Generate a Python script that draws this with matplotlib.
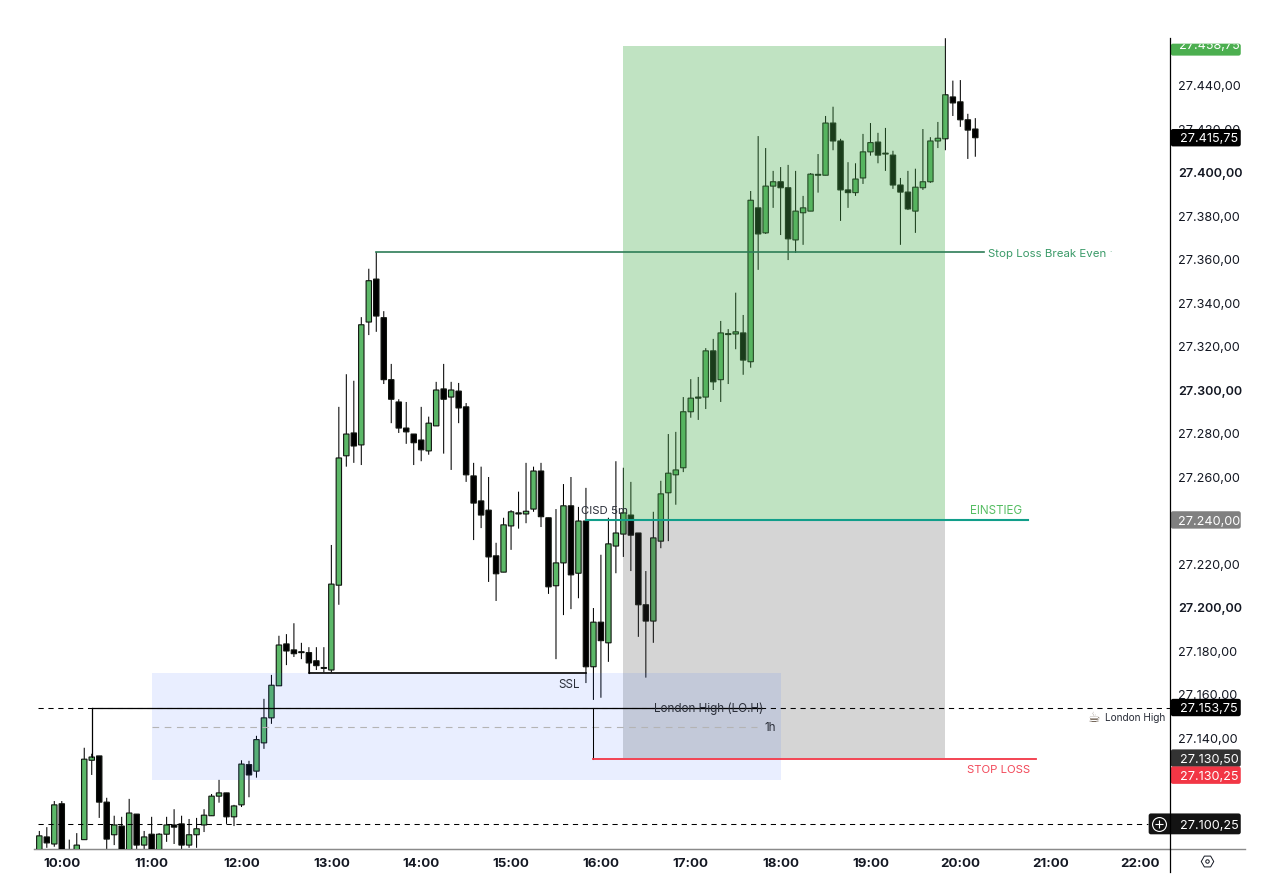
#!/usr/bin/env python3
"""Intraday 5 minute candle chart with long setup boxes and key levels."""
import matplotlib
matplotlib.use("Agg")
import matplotlib.pyplot as plt
from matplotlib.patches import FancyBboxPatch, Rectangle

plt.rcParams["font.family"] = ["Inter", "DejaVu Sans"]

opens = [
    27087.5, 27094.25, 27091.0, 27109.5, 27087.5, 27087.5, 27093.0, 27129.5, 27131.5, 27110.25,
    27095.25, 27099.25, 27088.25, 27104.75, 27090.5, 27095.5, 27088.25, 27095.5, 27099.75, 27100.25,
    27090.5, 27095.25, 27099.75, 27104.0, 27113.0, 27114.5, 27103.5, 27109.0, 27127.5, 27124.5,
    27137.5, 27149.0, 27163.75, 27183.0, 27180.25, 27179.25, 27179.0, 27175.25, 27171.75, 27171.0,
    27210.0, 27269.5, 27280.0, 27274.5, 27331.0, 27350.75, 27333.0, 27304.5, 27294.25, 27282.25,
    27279.5, 27276.75, 27271.75, 27283.25, 27300.25, 27296.5, 27299.25, 27292.0, 27260.25, 27248.75,
    27244.5, 27223.5, 27216.0, 27237.25, 27243.25, 27242.75, 27245.0, 27262.5, 27241.0, 27209.75,
    27220.25, 27246.5, 27215.5, 27239.5, 27172.5, 27193.0, 27183.5, 27228.0, 27233.5, 27242.25,
    27234.0, 27201.0, 27193.5, 27230.25, 27252.5, 27260.75, 27264.0, 27289.75, 27296.5, 27296.5,
    27317.75, 27304.5, 27325.5, 27325.5, 27326.0, 27312.75, 27383.5, 27372.0, 27393.5, 27395.5,
    27392.75, 27368.75, 27381.25, 27382.0, 27398.5, 27398.5, 27422.5, 27414.25, 27391.75, 27390.5,
    27397.25, 27409.25, 27413.75, 27408.5, 27407.75, 27394.0, 27390.75, 27382.0, 27392.75, 27395.5,
    27414.25, 27415.25, 27434.5, 27432.25, 27424.0, 27419.75,
]
highs = [
    27097.0, 27098.75, 27110.75, 27110.75, 27093.0, 27096.0, 27135.25, 27132.5, 27131.5, 27112.25,
    27104.0, 27103.5, 27111.75, 27104.75, 27097.0, 27103.5, 27096.0, 27103.5, 27107.0, 27104.0,
    27102.5, 27103.0, 27107.0, 27114.0, 27120.5, 27114.5, 27109.0, 27129.5, 27129.25, 27140.75,
    27157.75, 27168.75, 27186.75, 27187.5, 27192.5, 27183.5, 27181.5, 27181.5, 27181.5, 27228.5,
    27292.0, 27307.0, 27304.0, 27333.25, 27355.5, 27363.25, 27336.0, 27311.75, 27295.5, 27294.25,
    27279.5, 27292.0, 27287.5, 27303.5, 27311.75, 27303.5, 27303.0, 27293.75, 27266.25, 27264.5,
    27259.75, 27229.5, 27241.0, 27244.5, 27253.0, 27266.25, 27264.5, 27266.25, 27241.0, 27245.0,
    27256.5, 27259.75, 27246.0, 27254.75, 27199.5, 27224.0, 27241.0, 27267.0, 27264.0, 27257.5,
    27234.0, 27216.5, 27243.75, 27258.0, 27279.5, 27280.5, 27296.5, 27304.75, 27305.75, 27319.0,
    27323.25, 27331.5, 27327.75, 27344.5, 27334.25, 27391.25, 27416.5, 27411.0, 27400.5, 27402.25,
    27403.25, 27400.5, 27389.0, 27399.5, 27408.25, 27425.75, 27430.0, 27415.25, 27404.5, 27404.0,
    27417.5, 27422.5, 27418.0, 27420.25, 27409.75, 27397.25, 27400.5, 27401.5, 27419.75, 27416.0,
    27423.0, 27461.5, 27442.0, 27442.25, 27426.75, 27424.75,
]
lows = [
    27085.5, 27089.25, 27089.75, 27085.5, 27083.75, 27086.0, 27093.0, 27122.75, 27103.0, 27088.25,
    27090.5, 27085.5, 27087.5, 27088.25, 27088.25, 27087.5, 27087.5, 27092.0, 27091.0, 27088.25,
    27089.25, 27089.25, 27096.5, 27104.0, 27110.0, 27100.25, 27099.25, 27108.0, 27112.5, 27121.5,
    27134.75, 27146.25, 27163.75, 27173.25, 27177.0, 27176.0, 27169.75, 27171.0, 27170.0, 27170.0,
    27201.0, 27264.5, 27266.25, 27265.25, 27325.0, 27326.5, 27302.5, 27284.5, 27280.0, 27275.0,
    27265.25, 27267.0, 27270.0, 27283.25, 27270.5, 27263.0, 27284.5, 27257.5, 27230.75, 27236.25,
    27211.5, 27202.75, 27216.0, 27226.25, 27236.0, 27238.5, 27243.75, 27236.75, 27206.0, 27176.0,
    27196.25, 27199.0, 27204.0, 27165.0, 27157.25, 27158.25, 27174.75, 27215.5, 27223.0, 27216.5,
    27186.25, 27167.5, 27183.5, 27227.0, 27230.25, 27247.0, 27262.0, 27287.0, 27286.0, 27291.0,
    27299.75, 27294.25, 27302.5, 27318.5, 27306.75, 27310.0, 27355.0, 27371.5, 27383.5, 27371.0,
    27359.5, 27362.75, 27366.5, 27382.0, 27390.5, 27398.5, 27410.0, 27377.5, 27383.5, 27389.0,
    27394.5, 27407.5, 27404.0, 27400.5, 27392.25, 27366.5, 27382.5, 27372.0, 27391.75, 27395.0,
    27411.0, 27410.0, 27425.75, 27420.75, 27406.0, 27407.0,
]
closes = [
    27094.75, 27091.5, 27109.0, 27087.5, 27084.5, 27090.5, 27130.0, 27131.0, 27110.25, 27093.25,
    27099.75, 27087.5, 27105.25, 27090.5, 27094.25, 27088.25, 27095.5, 27099.75, 27098.75, 27090.5,
    27095.25, 27098.0, 27104.25, 27113.0, 27114.5, 27103.5, 27108.5, 27127.75, 27122.75, 27139.0,
    27149.0, 27164.0, 27182.5, 27179.75, 27178.5, 27179.0, 27174.25, 27173.0, 27172.0, 27210.5,
    27268.5, 27279.5, 27274.0, 27329.75, 27350.0, 27333.75, 27304.5, 27295.5, 27282.25, 27280.5,
    27275.5, 27272.25, 27284.5, 27299.75, 27295.5, 27299.75, 27291.5, 27260.75, 27247.75, 27242.25,
    27223.0, 27215.25, 27237.75, 27243.75, 27242.75, 27244.0, 27262.5, 27241.5, 27209.25, 27220.25,
    27246.5, 27214.75, 27239.5, 27172.5, 27193.0, 27184.5, 27229.0, 27234.0, 27243.25, 27233.0,
    27201.0, 27193.5, 27231.75, 27252.0, 27261.5, 27263.0, 27289.75, 27296.0, 27296.0, 27317.75,
    27303.5, 27326.0, 27325.25, 27326.5, 27313.5, 27387.0, 27371.5, 27393.5, 27395.5, 27392.75,
    27369.25, 27382.0, 27383.5, 27399.0, 27398.75, 27422.5, 27414.25, 27391.75, 27390.5, 27396.75,
    27409.25, 27413.5, 27407.75, 27408.25, 27394.0, 27390.75, 27383.0, 27393.0, 27395.5, 27414.25,
    27415.5, 27435.5, 27431.75, 27424.0, 27419.25, 27415.75,
]

price_ticks = [27140, 27160, 27180, 27200, 27220, 27260, 27280, 27300, 27320,
               27340, 27360, 27380, 27400, 27420, 27440]
time_labels = ["10:00", "11:00", "12:00", "13:00", "14:00", "15:00", "16:00",
               "17:00", "18:00", "19:00", "20:00", "21:00", "22:00"]

target_price = 27458.75
target_box_top = 27458.0
entry_price = 27240.00
stop_price = 27130.50
stop_line_price = 27130.25
break_even_price = 27363.25
last_price = 27415.75
london_high = 27153.75
lower_level = 27100.25
ssl_price = 27169.50
box_1h_top = 27169.75
box_1h_bottom = 27120.50
box_1h_mid = 27145.00

GREEN = "#5CB868"
XMIN, XMAX = -0.71, 151.0
YMIN, YMAX = 27088.7, 27461.6
BADGE_X0, BADGE_W = 151.1, 9.35  # price label column, in bars
BADGE_TEXT_X = 156.25


def fmt(p):
    return f"{p:,.2f}".replace(",", "#").replace(".", ",").replace("#", ".")


def badge(ax, price, face, offset=0.0, height=8.0, x0=BADGE_X0, width=BADGE_W):
    # offset moves the tag when the chart pushes overlapping labels apart
    y = price + offset
    box = FancyBboxPatch((x0, y - height / 2), width, height,
                         boxstyle="round,pad=0,rounding_size=0.3", mutation_aspect=3.44,
                         fc=face, ec="none", zorder=8, clip_on=False)
    ax.add_patch(box)
    txt = ax.text(BADGE_TEXT_X, y - 0.3, fmt(price), color="white", fontsize=9.1,
                  ha="center", va="center", zorder=9, clip_on=False)
    return box, txt


fig = plt.figure(figsize=(12.61, 8.95), dpi=100)
ax = fig.add_axes([34 / 1261, 1 - 850 / 895, (1170 - 34) / 1261, (850 - 39) / 895])
ax.set_xlim(XMIN, XMAX)
ax.set_ylim(YMIN, YMAX)

xs = list(range(len(opens)))

# candles
wicks = ax.vlines(xs, lows, highs, color="black", lw=0.75, zorder=2)
wicks.set_snap(False)
bottoms = [min(o, c) for o, c in zip(opens, closes)]
heights = [max(abs(c - o), 0.4) for o, c in zip(opens, closes)]
colors = [GREEN if c >= o else "black" for o, c in zip(opens, closes)]
bars = ax.bar(xs, heights, bottom=bottoms, width=0.72, color=colors, edgecolor="#10140f",
              linewidth=0.8, zorder=3)
for b in bars:
    b.set_snap(False)

# setup boxes sit over the candles
ax.fill_between([78, 121], entry_price, target_box_top, color="#4CAF50", alpha=0.35, lw=0, zorder=4)
ax.fill_between([78, 121], stop_price, entry_price, color="#444444", alpha=0.22, lw=0, zorder=4)
ax.fill_between([15, 99], box_1h_bottom, box_1h_top, color="#2962FF", alpha=0.10, lw=0, zorder=4)
ax.plot([15, 95.8], [box_1h_mid] * 2, color="#b4b4b4", lw=0.8, ls=(0, (6, 5)), zorder=5)

# levels
dash = (0, (5, 4.5))
ax.plot([-0.2, XMAX], [london_high] * 2, color="black", lw=0.75, ls=dash, zorder=5)
ax.plot([7.02, 96.5], [london_high] * 2, color="black", lw=0.9, zorder=5)
ax.plot([7.02, 7.02], [london_high, 27131.0], color="black", lw=0.9, zorder=5)
ax.plot([-0.2, 148.0], [lower_level] * 2, color="black", lw=0.75, ls=dash, zorder=5)
ax.plot([36, 73], [ssl_price] * 2, color="black", lw=1.2, zorder=5)
ax.plot([36, 36], [ssl_price, 27174.25], color="black", lw=0.8, zorder=5)
ax.plot([45, 126.1], [break_even_price] * 2, color="#2E7D57", lw=1.2, zorder=5)
ax.plot([73, 132.0], [entry_price] * 2, color="#119E8A", lw=1.5, zorder=6)
ax.plot([74, 74], [stop_line_price, london_high], color="black", lw=0.75, zorder=5)
ax.plot([74, 133.1], [stop_line_price] * 2, color="#F23645", lw=1.3, zorder=6)

# labels on the chart
ax.text(126.65, break_even_price - 0.3, "Stop Loss Break Even", color="#3A9A68", fontsize=8.25,
        ha="left", va="center", zorder=7)
ax.text(142.95, break_even_price, "·", color="#3A9A68", fontsize=6, ha="left", va="center", zorder=7)
ax.text(131.3, entry_price + 4.4, "EINSTIEG", color="#55BD62", fontsize=8.4, ha="right",
        va="center", zorder=7)
ax.text(132.3, 27125.5, "STOP LOSS", color="#F2495A", fontsize=8.2, ha="right", va="center", zorder=7)
ax.text(72.3, 27244.4, "CISD 5m", color="#2a2e39", fontsize=8.2, ha="left", va="center", zorder=7)
ax.text(72.2, 27164.5, "SSL", color="#2a2e39", fontsize=8.4, ha="right", va="center", zorder=7)
ax.text(82.1, london_high, "London High (LO.H)", color="#2a2e39", fontsize=8.4, ha="left",
        va="center", zorder=7)
ax.text(98.4, box_1h_mid, "1h", color="#2a2e39", fontsize=8.4, ha="right", va="center", zorder=7)
ax.text(140.9, 27149.5, "☕", color="#5a4a3a", fontsize=10, ha="center", va="center", zorder=7,
        family=["DejaVu Sans"])
ax.text(150.3, 27149.5, "London High", color="#2a2e39", fontsize=7.3, ha="right", va="center", zorder=7)

# axes
for side in ("top", "left", "right"):
    ax.spines[side].set_visible(False)
ax.spines["bottom"].set_color("#8a8a8a")
ax.plot([XMIN, 161.0], [YMIN] * 2, color="#8a8a8a", lw=1.0, clip_on=False, zorder=2)
ax.plot([XMAX, XMAX], [27078.1, YMAX], color="black", lw=0.9, clip_on=False, zorder=10)

ax.set_xticks([3 + 12 * i for i in range(len(time_labels))])
ax.set_xticklabels(time_labels, fontsize=9.6, fontweight="bold", color="#131722")
ax.tick_params(axis="x", length=0, pad=6)
ax.yaxis.tick_right()
ax.set_yticks(price_ticks)
ax.set_yticklabels([fmt(p) for p in price_ticks], fontsize=9.1, color="#131722")
for label, p in zip(ax.get_yticklabels(), price_ticks):
    if p % 100 == 0:
        label.set_fontweight(600)
ax.tick_params(axis="y", length=0, pad=6)

# price tags
box, txt = badge(ax, target_price, "#4CAF50", offset=-2.5, height=5.5)
clip = Rectangle((BADGE_X0, target_price - 5.5), BADGE_W, 5.5, transform=ax.transData)
txt.set_position((BADGE_TEXT_X, target_price - 0.3))
txt.set_clip_path(clip)
txt.set_clip_on(True)
badge(ax, last_price, "black")
badge(ax, entry_price, "#808080")
badge(ax, london_high, "black")
badge(ax, stop_price, "#333333")
badge(ax, stop_line_price, "#F23645", offset=-7.6)
badge(ax, lower_level, "#131313", height=9.6, x0=148.15, width=12.3)
ax.plot([149.5], [lower_level], marker="o", ms=10, mfc="none", mec="white", mew=0.8,
        clip_on=False, zorder=9)
ax.plot([149.5], [lower_level], marker="+", ms=6, mec="white", mew=0.8, clip_on=False, zorder=9)

# settings icon under the price scale
ax.plot([156.0], [27083.0], marker="H", ms=9, mfc="none", mec="#131722", mew=0.7, clip_on=False, zorder=9)
ax.plot([156.0], [27083.0], marker="o", ms=2.5, mfc="none", mec="#131722", mew=0.7, clip_on=False, zorder=9)

fig.savefig("out.png", dpi=100)
